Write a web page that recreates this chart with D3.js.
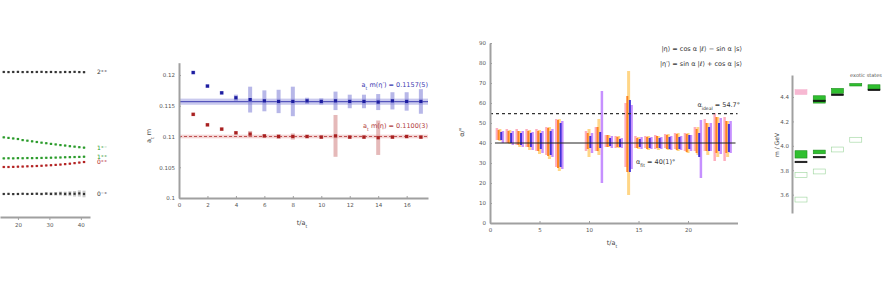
<!DOCTYPE html>
<html>
<head>
<meta charset="utf-8">
<script src="https://cdn.jsdelivr.net/npm/d3@7"></script>
<style>
  body { margin: 0; background: #fff; }
  svg { display: block; }
  text { font-family: "DejaVu Sans", sans-serif; }
</style>
</head>
<body>
<div id="myVis"></div>
<script>
// ---- panel 1 (cut at the left edge) ----
var p1T = [15.5, 17, 18.5, 20, 21.5, 23, 24.5, 26, 27.5, 29, 30.5, 32, 33.5, 35, 36.5, 38, 39.5, 41];
var p1Ticks = [20, 30, 40];
var p1Top = [1.311, 1.31, 1.311, 1.312, 1.31, 1.311, 1.31, 1.311, 1.312, 1.31, 1.311, 1.31, 1.309, 1.311, 1.31, 1.312, 1.31, 1.309];
var p1Green1 = [0.72, 0.715, 0.71, 0.705, 0.695, 0.69, 0.684, 0.678, 0.672, 0.667, 0.661, 0.656, 0.65, 0.646, 0.64, 0.636, 0.631, 0.627];
var p1Green2 = [0.53, 0.531, 0.53, 0.532, 0.531, 0.533, 0.532, 0.533, 0.534, 0.535, 0.536, 0.537, 0.538, 0.54, 0.541, 0.542, 0.543, 0.545];
var p1Red = [0.452, 0.452, 0.453, 0.455, 0.456, 0.458, 0.459, 0.461, 0.463, 0.466, 0.468, 0.471, 0.474, 0.478, 0.482, 0.487, 0.492, 0.497];
var p1Bottom = [0.208, 0.209, 0.207, 0.208, 0.21, 0.208, 0.209, 0.21, 0.208, 0.211, 0.209, 0.21, 0.212, 0.209, 0.211, 0.21, 0.213, 0.208];
var p1BottomErr = [0.005, 0.005, 0.006, 0.006, 0.007, 0.008, 0.009, 0.01, 0.011, 0.012, 0.014, 0.016, 0.018, 0.02, 0.022, 0.025, 0.028, 0.03];
var p1Labels = ["2⁺⁺", "1⁺⁻", "1⁺⁺", "0⁺⁺", "0⁻⁺"];

// ---- panel 2 ----
var p2T = [1, 2, 3, 4, 5, 6, 7, 8, 9, 10, 11, 12, 13, 14, 15, 16, 17];
var p2Ticks = [0, 2, 4, 6, 8, 10, 12, 14, 16];
var p2YTicks = [0.1, 0.105, 0.11, 0.115, 0.12];
var p2Blue = [0.1204, 0.1182, 0.1171, 0.1163, 0.1160, 0.1158, 0.1157, 0.1157, 0.1158, 0.1157, 0.1158, 0.1157, 0.1157, 0.1156, 0.1158, 0.1157, 0.1157];
var p2BlueErr = [0.0003, 0.0003, 0.0003, 0.0005, 0.0021, 0.0017, 0.0019, 0.0024, 0.0005, 0.0005, 0.0015, 0.0011, 0.0011, 0.0013, 0.0014, 0.0015, 0.002];
var p2Red = [0.1136, 0.1119, 0.1112, 0.1106, 0.1104, 0.1101, 0.11, 0.11, 0.11, 0.1099, 0.1101, 0.1099, 0.1099, 0.1098, 0.1099, 0.11, 0.1099];
var p2RedErr = [0.0003, 0.0003, 0.0003, 0.0003, 0.0005, 0.0003, 0.0004, 0.0005, 0.0003, 0.0003, 0.0034, 0.0003, 0.0003, 0.0028, 0.0003, 0.0003, 0.0003];
var p2BlueFit = 0.11566, p2BlueFitErr = 0.0005;
var p2RedFit = 0.1100, p2RedFitErr = 0.0003;

// ---- panel 3 ----
var p3T = [1, 2, 3, 4, 5, 6, 7, 10, 11, 12, 13, 14, 15, 16, 17, 18, 19, 20, 21, 22, 23, 24];
var p3Ticks = [0, 5, 10, 15, 20];
var p3YTicks = [0, 10, 20, 30, 40, 50, 60, 70, 80, 90];
var p3Pink = [44.5, 43.5, 43, 42.5, 41.5, 41, 40, 41, 42, 41, 40.5, 44, 40.5, 40.5, 40.5, 41, 41, 40.5, 42, 44, 43, 42];
var p3PinkErr = [3, 3.5, 4, 4.5, 5.5, 7, 12, 5, 6, 3, 3, 16, 3, 3, 3.5, 3.5, 4, 4.5, 6, 8, 12, 11];
var p3Orange = [44, 43, 42.5, 42, 41, 40.5, 39.5, 41, 42, 41, 40.5, 44.5, 40, 40, 40.5, 40.5, 40.5, 40, 41, 43, 44, 43];
var p3OrangeErr = [2.5, 3, 3.5, 4, 5, 7, 12, 4, 6, 3, 2.5, 19, 2.5, 3, 3, 3.5, 4, 4.5, 6, 7, 9, 8];
var p3Yellow = [44, 43, 42, 41.5, 40.5, 40, 39, 40, 43, 41, 40.5, 45, 40, 40, 40, 40.5, 40.5, 40, 41, 42, 43, 42];
var p3YellowErr = [3, 3.5, 4, 5, 6, 8, 13, 7, 9, 3, 3, 31, 3, 3.5, 3.5, 4, 4.5, 5, 7, 8, 10, 9];
var p3Blue = [43.5, 42.5, 42, 41.5, 41, 40, 39, 40.5, 41.5, 40.5, 40, 43.5, 40, 40, 40, 40, 40, 40.5, 39, 42, 43, 42.5];
var p3BlueErr = [2, 2.5, 3, 3.5, 4, 6, 11, 3, 4, 2, 2, 18, 2, 2.5, 2.5, 3, 3, 3.5, 6, 6, 7, 7];
var p3Purple = [43, 42.5, 42, 41, 40.5, 40, 39, 40, 43, 40.5, 40, 43, 40, 40, 40, 40, 40, 40, 37, 43, 43.5, 43];
var p3PurpleErr = [3, 3.5, 4, 4.5, 5.5, 7, 12, 5, 23, 3, 2.5, 16, 3, 3, 3, 3.5, 3.5, 4, 14.5, 7, 9, 8];
var p3Magic = 54.7, p3Fit = 40;

// ---- panel 4 (cut at the right edge) ----
var p4Cats = ["0⁻⁺", "1⁻⁻", "2⁻⁺", "2⁻⁻", "3⁻⁻"];
var p4YTicks = [3.6, 3.8, 4.0, 4.2, 4.4];
var p4Cat = ["0⁻⁺", "0⁻⁺", "0⁻⁺", "0⁻⁺", "0⁻⁺", "1⁻⁻", "1⁻⁻", "1⁻⁻", "1⁻⁻", "1⁻⁻", "2⁻⁺", "2⁻⁺", "2⁻⁺", "2⁻⁻", "2⁻⁻", "3⁻⁻", "3⁻⁻"];
var p4Mass = [4.44, 3.93, 3.87, 3.76, 3.56, 4.38, 4.37, 3.95, 3.91, 3.79, 4.45, 4.42, 3.97, 4.5, 4.05, 4.48, 4.46];
var p4Err = [0.02, 0.03, 0.004, 0.02, 0.02, 0.03, 0.004, 0.015, 0.004, 0.02, 0.02, 0.004, 0.02, 0.01, 0.02, 0.02, 0.004];
var p4Kind = ["pink", "lat", "exp", "open", "open", "lat", "exp", "lat", "exp", "open", "lat", "exp", "open", "lat", "open", "lat", "exp"];

var width = 885;
var height = 288;

var canvas = d3.select("#myVis")
    .append("svg")
    .attr("width", width)
    .attr("height", height)
    .style("background-color", "#fff");

var axisGrey = "#a0a0a0";

function styleAxis(g) {
    g.select(".domain").attr("stroke", axisGrey).attr("stroke-width", 2);
    g.selectAll(".tick line").attr("stroke", axisGrey);
    g.selectAll(".tick text").attr("fill", "#555").style("font-size", "5.5px");
}

function errorRects(g, xs, ys, errs, x, y, offset, w, color, opacity) {
    g.selectAll(null)
        .data(xs)
        .enter().append("rect")
        .attr("x", function(d) { return x(d) + offset - w / 2; })
        .attr("y", function(d, i) { return y(ys[i] + errs[i]); })
        .attr("width", w)
        .attr("height", function(d, i) { return Math.max(1, y(ys[i] - errs[i]) - y(ys[i] + errs[i])); })
        .attr("fill", color)
        .attr("opacity", opacity);
}

function squares(g, xs, ys, x, y, s, color) {
    g.selectAll(null)
        .data(xs)
        .enter().append("rect")
        .attr("x", function(d) { return x(d) - s / 2; })
        .attr("y", function(d, i) { return y(ys[i]) - s / 2; })
        .attr("width", s)
        .attr("height", s)
        .attr("fill", color);
}

// ================= panel 1 =================
var x1 = d3.scaleLinear().domain([14.3, 42.9]).range([0, 90]);
var y1 = d3.scaleLinear().domain([0, 1.6]).range([217, 40]);
var g1 = canvas.append("g");

g1.append("g")
    .attr("transform", "translate(0,217)")
    .call(d3.axisBottom(x1).tickValues(p1Ticks).tickSize(3).tickPadding(3).tickSizeOuter(0))
    .call(styleAxis);

var zeros = p1T.map(function() { return 0.006; });
var p1Rows = [
    { v: p1Top, e: zeros, c: "#333", light: "#bbb" },
    { v: p1Green1, e: zeros, c: "#2a9a2a", light: "#a8dca8" },
    { v: p1Green2, e: zeros, c: "#2a9a2a", light: "#a8dca8" },
    { v: p1Red, e: zeros, c: "#b22222", light: "#e8a0a0" },
    { v: p1Bottom, e: p1BottomErr, c: "#333", light: "#bbb" }
];
p1Rows.forEach(function(row, k) {
    errorRects(g1, p1T, row.v, row.e, x1, y1, 0, 3, row.light, 0.8);
    squares(g1, p1T, row.v, x1, y1, 2.2, row.c);
    g1.append("text")
        .attr("x", 97)
        .attr("y", y1(row.v[row.v.length - 1]) + 2)
        .attr("fill", row.c)
        .style("font-size", "6px")
        .text(p1Labels[k]);
});

// ================= panel 2 =================
var x2 = d3.scaleLinear().domain([0, 17.5]).range([179, 428]);
var y2 = d3.scaleLinear().domain([0.1, 0.122]).range([198, 62.7]);
var g2 = canvas.append("g");

// fit bands and lines
g2.append("rect")
    .attr("x", x2(0)).attr("width", x2(17.5) - x2(0))
    .attr("y", y2(p2BlueFit + p2BlueFitErr))
    .attr("height", y2(p2BlueFit - p2BlueFitErr) - y2(p2BlueFit + p2BlueFitErr))
    .attr("fill", "#c9c9ee");
g2.append("line")
    .attr("x1", x2(0)).attr("x2", x2(17.5))
    .attr("y1", y2(p2BlueFit)).attr("y2", y2(p2BlueFit))
    .attr("stroke", "#3a3ab0").attr("stroke-width", 1);
g2.append("rect")
    .attr("x", x2(0)).attr("width", x2(17.5) - x2(0))
    .attr("y", y2(p2RedFit + p2RedFitErr))
    .attr("height", y2(p2RedFit - p2RedFitErr) - y2(p2RedFit + p2RedFitErr))
    .attr("fill", "#f2d4d4");
g2.append("line")
    .attr("x1", x2(0)).attr("x2", x2(17.5))
    .attr("y1", y2(p2RedFit)).attr("y2", y2(p2RedFit))
    .attr("stroke", "#c05050").attr("stroke-width", 1)
    .attr("stroke-dasharray", "3,2");

errorRects(g2, p2T, p2Blue, p2BlueErr, x2, y2, 0, 4, "#7c7cd6", 0.55);
errorRects(g2, p2T, p2Red, p2RedErr, x2, y2, 0, 4, "#d08080", 0.55);
squares(g2, p2T, p2Blue, x2, y2, 3.2, "#1e1ea0");
squares(g2, p2T, p2Red, x2, y2, 3.2, "#a82020");

g2.append("g")
    .attr("transform", "translate(0,198)")
    .call(d3.axisBottom(x2).tickValues(p2Ticks).tickSize(-2).tickPadding(5).tickSizeOuter(0))
    .call(styleAxis);
g2.append("g")
    .attr("transform", "translate(179,0)")
    .call(d3.axisLeft(y2).tickValues(p2YTicks).tickSize(-2).tickPadding(4).tickSizeOuter(0)
        .tickFormat(function(d) { return +d.toFixed(3); }))
    .call(styleAxis);

function subText(g, xp, yp, anchor, color, parts, size) {
    var t = g.append("text")
        .attr("x", xp).attr("y", yp)
        .attr("text-anchor", anchor)
        .attr("fill", color)
        .style("font-size", size + "px");
    parts.forEach(function(p) {
        var s = t.append("tspan").text(p[0]);
        if (p[1] === "sub") s.attr("baseline-shift", "sub").style("font-size", (size * 0.7) + "px");
        if (p[1] === "sup") s.attr("baseline-shift", "super").style("font-size", (size * 0.7) + "px");
    });
    return t;
}

subText(g2, 428, 87, "end", "#3a3ab0",
    [["a", ""], ["t", "sub"], [" m(η′) = 0.1157(5)", ""]], 6.5);
subText(g2, 428, 128, "end", "#b03c3c",
    [["a", ""], ["t", "sub"], [" m(η) = 0.1100(3)", ""]], 6.5);
subText(g2, 302, 225, "middle", "#444",
    [["t/a", ""], ["t", "sub"]], 6.5);
subText(g2, 0, 0, "middle", "#444",
    [["a", ""], ["t", "sub"], [" m", ""]], 6.5)
    .attr("transform", "translate(151,136) rotate(-90)");

// ================= panel 3 =================
var x3 = d3.scaleLinear().domain([0, 25]).range([490, 737.5]);
var y3 = d3.scaleLinear().domain([0, 90]).range([223, 43]);
var g3 = canvas.append("g");

var p3Series = [
    { v: p3Yellow, e: p3YellowErr, off: 0, w: 3, c: "#ffd27a", o: 0.9 },
    { v: p3Pink, e: p3PinkErr, off: -3, w: 2.5, c: "#ff9fb2", o: 0.85 },
    { v: p3Purple, e: p3PurpleErr, off: 3, w: 2.5, c: "#b36bff", o: 0.75 },
    { v: p3Orange, e: p3OrangeErr, off: -1.3, w: 2, c: "#ff7f1a", o: 0.95 },
    { v: p3Blue, e: p3BlueErr, off: 1.3, w: 2, c: "#3a2ad8", o: 0.95 }
];
p3Series.forEach(function(s) {
    errorRects(g3, p3T, s.v, s.e, x3, y3, s.off, s.w, s.c, s.o);
});

g3.append("line")
    .attr("x1", x3(0.5)).attr("x2", x3(24.8))
    .attr("y1", y3(p3Fit)).attr("y2", y3(p3Fit))
    .attr("stroke", "#222").attr("stroke-width", 1);
g3.append("line")
    .attr("x1", x3(0)).attr("x2", x3(25))
    .attr("y1", y3(p3Magic)).attr("y2", y3(p3Magic))
    .attr("stroke", "#333").attr("stroke-width", 1.2)
    .attr("stroke-dasharray", "3,3");

g3.append("g")
    .attr("transform", "translate(0,223)")
    .call(d3.axisBottom(x3).tickValues(p3Ticks).tickSize(-2).tickPadding(5).tickSizeOuter(0))
    .call(styleAxis);
g3.append("g")
    .attr("transform", "translate(490,0)")
    .call(d3.axisLeft(y3).tickValues(p3YTicks).tickSize(-2).tickPadding(4).tickSizeOuter(0))
    .call(styleAxis);

subText(g3, 742, 51, "end", "#333", [["|η⟩ = cos α |ℓ⟩ − sin α |s⟩", ""]], 6.5);
subText(g3, 742, 66, "end", "#333", [["|η′⟩ = sin α |ℓ⟩ + cos α |s⟩", ""]], 6.5);
subText(g3, 740, 107, "end", "#333", [["α", ""], ["ideal", "sub"], [" = 54.7°", ""]], 6.5);
subText(g3, 636, 164, "start", "#333", [["α", ""], ["fit", "sub"], [" = 40(1)°", ""]], 6.5);
subText(g3, 612, 245, "middle", "#444", [["t/a", ""], ["t", "sub"]], 6.5);
subText(g3, 0, 0, "middle", "#444", [["α/°", ""]], 6.5)
    .attr("transform", "translate(464,132) rotate(-90)");

// ================= panel 4 =================
var x4 = d3.scalePoint().domain(p4Cats).range([801, 874]);
var y4 = d3.scaleLinear().domain([3.45, 4.58]).range([213, 75]);
var g4 = canvas.append("g");

g4.append("g")
    .attr("transform", "translate(792,0)")
    .call(d3.axisLeft(y4).tickValues(p4YTicks).tickSize(-2).tickPadding(3).tickSizeOuter(0)
        .tickFormat(d3.format(".1f")))
    .call(styleAxis);

var p4Fill = { lat: "#2fbf2f", exp: "#111", open: "#fff", pink: "#f7b8d2" };
var p4Stroke = { lat: "#1c8c1c", exp: "#111", open: "#9ad49a", pink: "#f7b8d2" };
g4.selectAll(null)
    .data(p4Mass)
    .enter().append("rect")
    .attr("x", function(d, i) { return x4(p4Cat[i]) - 6; })
    .attr("y", function(d, i) { return y4(d + p4Err[i]); })
    .attr("width", 12)
    .attr("height", function(d, i) { return Math.max(1.5, y4(d - p4Err[i]) - y4(d + p4Err[i])); })
    .attr("fill", function(d, i) { return p4Fill[p4Kind[i]]; })
    .attr("stroke", function(d, i) { return p4Stroke[p4Kind[i]]; })
    .attr("stroke-width", 0.6);

g4.append("text")
    .attr("x", 866).attr("y", 77)
    .attr("text-anchor", "middle")
    .attr("fill", "#555")
    .style("font-size", "5px")
    .text("exotic states");
subText(g4, 0, 0, "middle", "#444", [["m / GeV", ""]], 6)
    .attr("transform", "translate(779,145) rotate(-90)");
</script>
</body>
</html>
